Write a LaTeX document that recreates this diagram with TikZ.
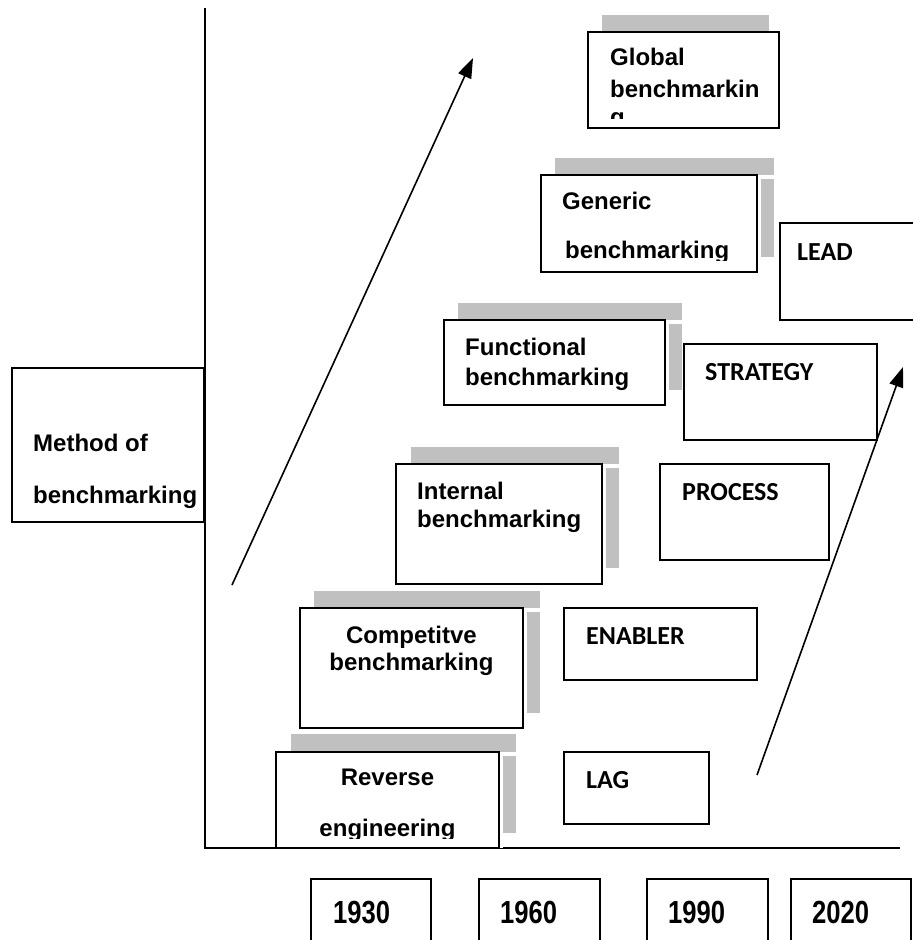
\documentclass[tikz,border=0pt]{standalone}
\usepackage{fontspec}
\setmainfont{Liberation Sans}
\newfontfamily\levelfont{Carlito}
\newfontfamily\yearfont[FakeStretch=0.8]{Liberation Sans}
\usetikzlibrary{arrows.meta}
\definecolor{shadowgray}{RGB}{192,192,192}
\tikzset{
  box/.style={draw=black, line width=2pt, fill=white, rectangle, inner sep=0pt},
  openbox/.style={draw=black, line width=2pt, rectangle, inner sep=0pt},
  shadowfill/.style={fill=shadowgray},
  gapfill/.style={fill=white},
  axisline/.style={draw=black, line width=2pt},
  trend/.style={draw=black, line width=1.6pt, -{Triangle[length=20pt,width=14pt]}},
  methodtext/.style={font=\fontsize{24}{28}\selectfont\bfseries, inner sep=0pt, anchor=base west},
  methodmid/.style={font=\fontsize{24}{28}\selectfont\bfseries, inner sep=0pt, anchor=base},
  leveltext/.style={font=\levelfont\fontsize{26}{30}\selectfont\bfseries, inner sep=0pt, anchor=base west},
  yeartext/.style={font=\yearfont\fontsize{32}{36}\selectfont\bfseries, inner sep=0pt, anchor=base west},
}
\begin{document}
\begin{tikzpicture}[x=1pt, y=-1pt]
\clip (0,0) rectangle (913,940);
\fill[white] (0,0) rectangle (913,940);

% axes
\coordinate (ytop) at (205,8);
\coordinate (origin) at (205,848);
\coordinate (xend) at (900,848);
\draw[axisline] (ytop) -- (origin) -- (xend);

% method label box
\node[box, minimum width=192pt, minimum height=154pt] (method) at (108,445) {};
\node[methodtext] (method1) at (33,451) {Method of};
\node[methodtext] (method2) at (33,503) {benchmarking};

% shadows behind the benchmarking steps
\fill[shadowfill] (291,734) rectangle (516,833);
\fill[shadowfill] (314,591) rectangle (540,713);
\fill[shadowfill] (411,447) rectangle (619,568);
\fill[shadowfill] (458,303) rectangle (682,390);
\fill[shadowfill] (555,158) rectangle (774,257);
\fill[shadowfill] (602,15) rectangle (769,110);

% white margins between the steps and their shadows
\fill[gapfill] (499,752) rectangle (503,848);
\fill[gapfill] (499,752) rectangle (516,756);
\fill[gapfill] (523,608) rectangle (527,728);
\fill[gapfill] (523,608) rectangle (540,612);
\fill[gapfill] (602,464) rectangle (606,584);
\fill[gapfill] (602,464) rectangle (619,468);
\fill[gapfill] (665,320) rectangle (669,405);
\fill[gapfill] (665,320) rectangle (682,324);
\fill[gapfill] (757,175) rectangle (761,272);
\fill[gapfill] (757,175) rectangle (774,179);

% benchmarking steps
\node[box, minimum width=223pt, minimum height=96pt] (reverse) at (387.5,800) {};
\node[box, minimum width=223pt, minimum height=120pt] (competitive) at (411.5,668) {};
\node[box, minimum width=206pt, minimum height=120pt] (internal) at (499,524) {};
\node[box, minimum width=221pt, minimum height=85pt] (functional) at (554.5,362.5) {};
\node[box, minimum width=216pt, minimum height=97pt] (generic) at (649,223.5) {};
\node[box, minimum width=191pt, minimum height=96pt] (global) at (683.5,80) {};

\node[methodmid] (reverse1) at (387.5,785) {Reverse};
\begin{scope}
  \clip (276,752) rectangle (499,838);
  \node[methodmid] (reverse2) at (387.5,836) {engineering};
\end{scope}
\node[methodmid] (competitive1) at (411.5,643) {Competitve};
\node[methodmid] (competitive2) at (411.5,670) {benchmarking};
\node[methodtext] (internal1) at (417,499) {Internal};
\node[methodtext] (internal2) at (417,527) {benchmarking};
\node[methodtext] (functional1) at (465,355) {Functional};
\node[methodtext] (functional2) at (465,385) {benchmarking};
\node[methodtext] (generic1) at (562,209) {Generic};
\begin{scope}
  \clip (541,175) rectangle (757,260);
  \node[methodtext] (generic2) at (565,258) {benchmarking};
\end{scope}
\node[methodtext] (global1) at (610,65) {Global};
\node[methodtext] (global2) at (610,97) {benchmarkin};
\begin{scope}
  \clip (588,32) rectangle (779,118);
  \node[methodtext] (global3) at (610,125) {g};
\end{scope}

% levels
\node[box, minimum width=145pt, minimum height=72pt] (lag) at (636.5,788) {};
\node[box, minimum width=193pt, minimum height=72pt] (enabler) at (660.5,644) {};
\node[box, minimum width=169pt, minimum height=96pt] (process) at (744.5,512) {};
\node[box, minimum width=193pt, minimum height=96pt] (strategy) at (780.5,392) {};
\node[box, minimum width=150pt, minimum height=97pt] (lead) at (855,271.5) {};
\node[leveltext] (lagt) at (586,788) {LAG};
\node[leveltext] (enablert) at (586,644) {ENABLER};
\node[leveltext] (processt) at (682,500) {PROCESS};
\node[leveltext] (strategyt) at (705,380) {STRATEGY};
\node[leveltext] (leadt) at (797,260) {LEAD};

% years
\node[openbox, minimum width=120pt, minimum height=80pt] (y1930) at (371,919) {};
\node[openbox, minimum width=121pt, minimum height=80pt] (y1960) at (539.5,919) {};
\node[openbox, minimum width=121pt, minimum height=80pt] (y1990) at (707.5,919) {};
\node[openbox, minimum width=120pt, minimum height=80pt] (y2020) at (851,919) {};
\node[yeartext] (t1930) at (333,923) {1930};
\node[yeartext] (t1960) at (500,923) {1960};
\node[yeartext] (t1990) at (668,923) {1990};
\node[yeartext] (t2020) at (812,923) {2020};

% trend arrows
\coordinate (leftstart) at (232,585);
\coordinate (leftend) at (473,58);
\coordinate (rightstart) at (757,775);
\coordinate (rightend) at (903,367);
\draw[trend] (leftstart) -- (leftend);
\draw[trend] (rightstart) -- (rightend);
\end{tikzpicture}
\end{document}
